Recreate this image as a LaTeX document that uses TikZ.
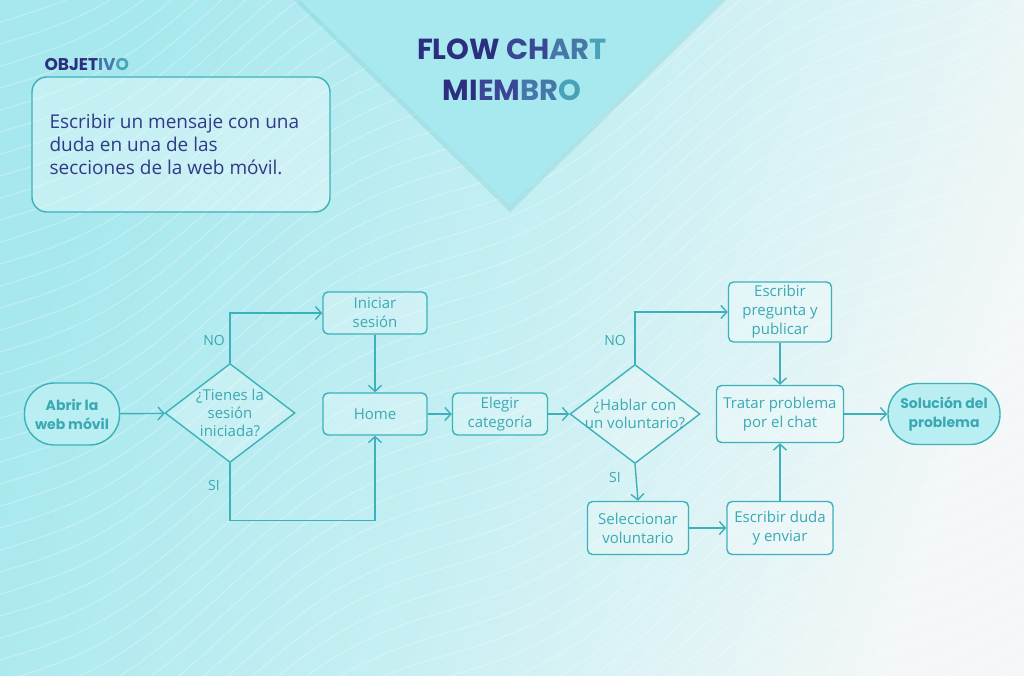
\documentclass[tikz,border=0pt]{standalone}
\usepackage{fontspec}
\setmainfont{Open Sans}
\newfontfamily\headfont{Poppins}
\usetikzlibrary{shapes.geometric,arrows.meta}

\definecolor{bgleft}{HTML}{A6E8EE}
\definecolor{bgmid}{HTML}{C6EFF3}
\definecolor{bgright}{HTML}{F3F7F7}
\definecolor{wedge}{HTML}{A8E8EF}
\definecolor{flowteal}{HTML}{3DB1BA}
\definecolor{flowtext}{HTML}{3AA9B3}
\definecolor{navy}{HTML}{2F3A88}
\definecolor{inkA}{HTML}{2C2E7E}
\definecolor{inkB}{HTML}{3B4694}
\definecolor{inkC}{HTML}{4677A9}
\definecolor{inkD}{HTML}{49A3B6}
\definecolor{capfill}{HTML}{B9EEF3}

\tikzset{
  flowline/.style={draw=flowteal, line width=1.4pt},
  arrowline/.style={flowline, -{Straight Barb[length=6pt,width=13pt]}},
  procbox/.style={draw=flowteal, line width=1.4pt, rounded corners=5pt, fill=white, fill opacity=.25, text opacity=1,
    text=flowtext, align=center, inner sep=2pt, font=\fontsize{15}{19}\selectfont},
  capsule/.style={draw=flowteal, line width=1.4pt, rounded corners=30pt, fill=capfill, text=flowtext, align=center,
    font=\headfont\bfseries\fontsize{14}{19}\selectfont},
  decision/.style={diamond, draw=flowteal, line width=1.4pt, fill=white, fill opacity=.25, minimum width=130pt,
    minimum height=99pt, inner sep=0pt},
  asktext/.style={text=flowtext, text opacity=1, align=center, font=\fontsize{15}{18}\selectfont},
  branch/.style={text=flowtext, font=\fontsize{14}{17}\selectfont},
  wave/.style={draw=white, line width=1pt, opacity=.3},
}

\begin{document}
\begin{tikzpicture}[x=1pt,y=-1pt]
  \useasboundingbox (0,0) rectangle (1024,676);

  % background
  \shade[left color=bgleft, right color=bgright, middle color=bgmid, shading angle=70] (0,0) rectangle (1024,676);
  \begin{scope}
    \clip (0,0) rectangle (1024,676);
    \foreach \c in {0,22,...,1560}
      \draw[wave] plot[domain=0:1024, samples=50, smooth] (\x, {\c - 0.6*\x + 22*sin(\x*0.8)});
  \end{scope}

  % title wedge
  \fill[flowteal, opacity=.18] (294,0) -- (726,0) -- (510,212) -- cycle;
  \fill[wedge] (300,0) -- (720,0) -- (510,205) -- cycle;
  \node[font=\headfont\bfseries\fontsize{29}{41}\selectfont, align=center] (title) at (512,70)
    {\textcolor{inkA}{FLOW }\textcolor{inkB}{CH}\textcolor{inkC}{AR}\textcolor{inkD}{T}\\
     \textcolor{inkA}{MI}\textcolor{inkB}{EM}\textcolor{inkC}{BR}\textcolor{inkD}{O}};

  % objective
  \node[anchor=west, font=\headfont\bfseries\fontsize{17}{20}\selectfont] (goalhead) at (41,65)
    {\textcolor{inkA}{OBJET}\textcolor{inkC}{IV}\textcolor{inkD}{O}};
  \filldraw[draw=flowteal, line width=1.4pt, fill=white, fill opacity=.35, rounded corners=15pt] (32,77) rectangle (330,212);
  \node[anchor=north west, align=left, text=navy, font=\fontsize{19}{23}\selectfont] (goaltext) at (46,111)
    {Escribir un mensaje con una\\duda en una de las\\secciones de la web móvil.};

  % nodes
  \node[capsule, minimum width=95pt, minimum height=62pt] (start) at (72,414) {Abrir la\\web móvil};
  \node[decision, label={[asktext]center:¿Tienes la\\sesión\\iniciada?}] (ask) at (230,413) {};
  \node[procbox, minimum width=104pt, minimum height=42pt] (login) at (375,313) {Iniciar\\sesión};
  \node[procbox, minimum width=104pt, minimum height=42pt] (home) at (375,414) {Home};
  \node[procbox, minimum width=95pt, minimum height=42pt] (pick) at (500,414) {Elegir\\categoría};
  \node[decision, label={[asktext]center:¿Hablar con\\un voluntario?}] (talk) at (635,414) {};
  \node[procbox, minimum width=103pt, minimum height=60pt] (post) at (780,312) {Escribir\\pregunta y\\publicar};
  \node[procbox, minimum width=127pt, minimum height=57pt] (chat) at (780,414) {Tratar problema\\por el chat};
  \node[procbox, minimum width=101pt, minimum height=53pt] (choose) at (638,528) {Seleccionar\\voluntario};
  \node[procbox, minimum width=106pt, minimum height=53pt] (send) at (780,528) {Escribir duda\\y enviar};
  \node[capsule, minimum width=112pt, minimum height=61pt] (solved) at (944,414) {Solución del\\problema};

  % connectors
  \draw[arrowline] (start) -- (ask);
  \draw[arrowline] (ask.north) |- (login.west);
  \draw[arrowline] (login) -- (home);
  \draw[arrowline] (ask.south) -- ++(0,57) -| (home.south);
  \draw[arrowline] (home) -- (pick);
  \draw[arrowline] (pick) -- (talk);
  \draw[arrowline] (talk.north) |- (post.west);
  \draw[arrowline] (post) -- (chat);
  \draw[arrowline] (talk.south) -- (choose.north);
  \draw[arrowline] (choose) -- (send);
  \draw[arrowline] (send) -- (chat);
  \draw[arrowline] (chat) -- (solved);

  % branch labels
  \node[branch] (noA) at (214,340) {NO};
  \node[branch] (siA) at (214,485) {SI};
  \node[branch] (noB) at (615,340) {NO};
  \node[branch] (siB) at (615,477) {SI};
\end{tikzpicture}
\end{document}
